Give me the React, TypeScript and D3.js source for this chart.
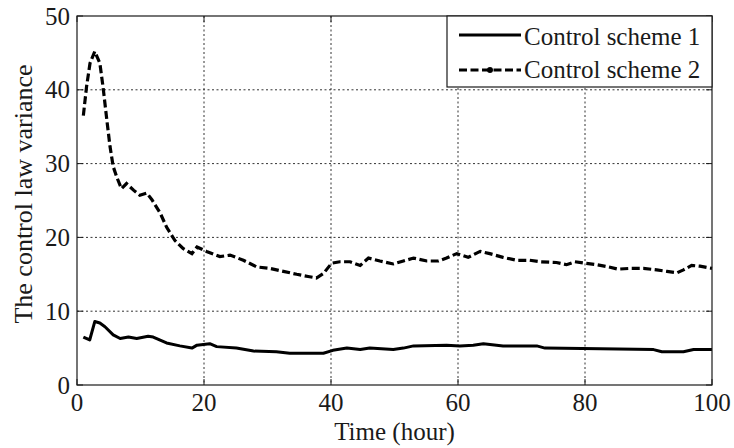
import React from "react";
import * as d3 from "d3";

const xTicks = [0, 20, 40, 60, 80, 100];
const yTicks = [0, 10, 20, 30, 40, 50];
const seriesNames = ["Control scheme 1", "Control scheme 2"];
const xLabel = "Time (hour)";
const yLabel = "The control law variance";

const scheme1: [number, number][] = [
  [1.0, 6.5], [2.0, 6.1], [2.8, 8.6], [3.6, 8.4], [4.4, 7.9], [5.7, 6.8], [6.8, 6.3],
  [8.1, 6.5], [9.4, 6.3], [11.2, 6.6], [12.0, 6.5], [14.1, 5.7], [16.2, 5.3], [18.1, 5.0],
  [18.9, 5.4], [20.9, 5.6], [22.0, 5.2], [25.1, 5.0], [27.8, 4.6], [31.4, 4.5], [33.5, 4.3],
  [38.8, 4.3], [40.3, 4.7], [42.5, 5.0], [44.6, 4.8], [46.1, 5.0], [49.8, 4.8], [51.4, 5.0],
  [53.0, 5.3], [58.2, 5.4], [60.3, 5.3], [62.4, 5.4], [64.0, 5.6], [67.1, 5.3], [72.4, 5.3],
  [73.7, 5.0], [82.4, 4.9], [90.8, 4.8], [92.1, 4.5], [95.5, 4.5], [97.1, 4.8], [100, 4.8],
];

const scheme2: [number, number][] = [
  [1.0, 36.5], [1.5, 40.4], [2.05, 43.6], [2.8, 45.2], [3.6, 43.6], [4.1, 40.4], [4.7, 35.9],
  [5.2, 32.3], [5.7, 29.6], [6.25, 28.2], [7.0, 26.6], [7.8, 27.3], [8.9, 26.4], [9.9, 25.7],
  [11.0, 26.0], [11.8, 25.1], [13.1, 23.3], [14.1, 21.4], [15.4, 19.6], [16.7, 18.5],
  [18.1, 17.8], [18.9, 18.7], [20.4, 18.1], [22.5, 17.4], [24.1, 17.6], [26.2, 16.9],
  [28.3, 16.0], [30.4, 15.8], [32.5, 15.4], [34.6, 15.0], [36.4, 14.7], [37.7, 14.5],
  [38.8, 15.1], [40.1, 16.5], [41.4, 16.7], [43.0, 16.7], [44.6, 16.2], [45.9, 17.2],
  [47.7, 16.8], [49.8, 16.4], [51.4, 16.8], [53.0, 17.2], [55.1, 16.8], [56.9, 16.8],
  [58.2, 17.2], [59.8, 17.8], [61.6, 17.3], [63.5, 18.1], [65.0, 17.8], [67.1, 17.3],
  [69.2, 16.9], [71.3, 16.9], [72.9, 16.7], [75.5, 16.6], [77.1, 16.3], [78.4, 16.7],
  [80.0, 16.5], [81.8, 16.3], [83.7, 16.0], [85.2, 15.7], [87.1, 15.8], [89.2, 15.8],
  [91.3, 15.6], [92.9, 15.4], [94.5, 15.2], [95.5, 15.6], [96.8, 16.2], [98.1, 16.1], [100, 15.8],
];

const W = 734;
const H = 448;
const left = 77, right = 712, top = 16, bottom = 385;
const font = "'Liberation Serif', 'Times New Roman', serif";
const ink = "#1a1a1a";

export default function App() {
  const x = d3.scaleLinear().domain([0, 100]).range([left, right]);
  const y = d3.scaleLinear().domain([0, 50]).range([bottom, top]);
  const line = d3.line<[number, number]>().x((d) => x(d[0])).y((d) => y(d[1]));

  return (
    <svg width={W} height={H} style={{ position: "absolute", left: 0, top: 0, background: "#fff" }}
      fontFamily={font}>
      <rect x={0} y={0} width={W} height={H} fill="#fff" />
      {/* grid */}
      {xTicks.filter((t) => t > 0 && t < 100).map((t) => (
        <line key={"gx" + t} x1={x(t)} x2={x(t)} y1={top} y2={bottom} stroke="#333" strokeWidth={1} strokeDasharray="2,2.5" />
      ))}
      {yTicks.filter((t) => t > 0 && t < 50).map((t) => (
        <line key={"gy" + t} x1={left} x2={right} y1={y(t)} y2={y(t)} stroke="#333" strokeWidth={1} strokeDasharray="2,2.5" />
      ))}
      {/* ticks inward */}
      {xTicks.map((t) => (
        <g key={"tx" + t}>
          <line x1={x(t)} x2={x(t)} y1={bottom} y2={bottom - 6} stroke={ink} strokeWidth={1} />
          <line x1={x(t)} x2={x(t)} y1={top} y2={top + 6} stroke={ink} strokeWidth={1} />
        </g>
      ))}
      {yTicks.map((t) => (
        <g key={"ty" + t}>
          <line x1={left} x2={left + 6} y1={y(t)} y2={y(t)} stroke={ink} strokeWidth={1} />
          <line x1={right} x2={right - 6} y1={y(t)} y2={y(t)} stroke={ink} strokeWidth={1} />
        </g>
      ))}
      {/* data */}
      <path d={line(scheme1) || ""} fill="none" stroke="#000" strokeWidth={3} strokeLinejoin="round" />
      <path d={line(scheme2) || ""} fill="none" stroke="#000" strokeWidth={3.2} strokeDasharray="8,3.5" />
      {/* frame */}
      <rect x={left} y={top} width={right - left} height={bottom - top} fill="none" stroke={ink} strokeWidth={1.2} />
      {/* tick labels */}
      {xTicks.map((t) => (
        <text key={"lx" + t} x={x(t)} y={411} textAnchor="middle" fontSize={25} fill={ink}>{t}</text>
      ))}
      {yTicks.map((t) => (
        <text key={"ly" + t} x={70} y={y(t) + 8.5} textAnchor="end" fontSize={25} fill={ink}>{t}</text>
      ))}
      <text x={(left + right) / 2} y={440} textAnchor="middle" fontSize={25} fill={ink}>{xLabel}</text>
      <text transform="translate(32, 194) rotate(-90)" textAnchor="middle" fontSize={26} fill={ink}>{yLabel}</text>
      {/* legend */}
      <rect x={447} y={top} width={265} height={71} fill="#fff" stroke={ink} strokeWidth={1.2} />
      <line x1={459} x2={521} y1={35} y2={35} stroke="#000" strokeWidth={3} />
      <line x1={459} x2={521} y1={70} y2={70} stroke="#000" strokeWidth={3.2} strokeDasharray="8,3.5" />
      <circle cx={490} cy={70} r={3} fill="#000" />
      <text x={524} y={45} fontSize={25} fill={ink}>{seriesNames[0]}</text>
      <text x={524} y={78} fontSize={25} fill={ink}>{seriesNames[1]}</text>
    </svg>
  );
}
